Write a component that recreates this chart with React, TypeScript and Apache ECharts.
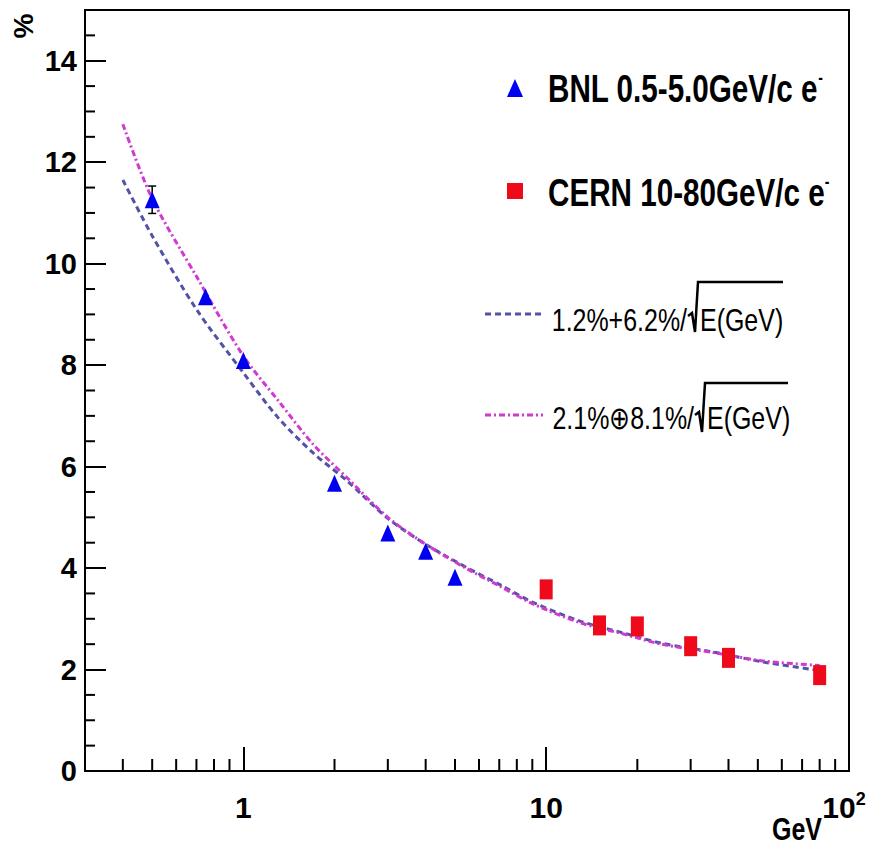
import React, { useEffect, useRef } from "react";
import * as echarts from "echarts";

const FONT = "'Liberation Sans Narrow', 'Liberation Sans', Arial, sans-serif";
const NARROW = 0.78;

// BNL data (triangles)
const BNL_E = [0.5, 0.75, 1, 2, 3, 4, 5];
const BNL_RES = [11.26, 9.35, 8.09, 5.67, 4.69, 4.33, 3.82];
const BNL_ERR = [0.27, 0, 0, 0, 0, 0, 0];

// CERN data (squares)
const CERN_E = [10, 15, 20, 30, 40, 80];
const CERN_RES = [3.58, 2.87, 2.85, 2.46, 2.23, 1.89];

// Fit curves
const FIT_E = [0.4, 0.5, 0.7, 1, 1.3, 1.7, 2.2, 3, 4, 5.5, 7, 9, 13, 18, 24, 36, 52, 80];
const FIT_LIN = [11.65, 10.55, 9.1, 7.85, 6.97, 6.27, 5.72, 4.98, 4.47, 4.0, 3.68, 3.33, 2.95, 2.72, 2.52, 2.34, 2.15, 1.98];
const FIT_QUAD = [12.75, 11.28, 9.75, 8.18, 7.31, 6.44, 5.78, 5.0, 4.47, 3.98, 3.65, 3.3, 2.92, 2.7, 2.5, 2.33, 2.17, 2.08];

// Axis ticks
const X_MIN = 0.3;
const X_MAX = 100;
const X_MINOR = [0.4, 0.5, 0.6, 0.7, 0.8, 0.9, 2, 3, 4, 5, 6, 7, 8, 9, 20, 30, 40, 50, 60, 70, 80, 90];
const Y_MINOR = [0.5, 1, 1.5, 2.5, 3, 3.5, 4.5, 5, 5.5, 6.5, 7, 7.5, 8.5, 9, 9.5, 10.5, 11, 11.5, 12.5, 13, 13.5, 14.5];

const BLUE_LINE = "#5252a6";
const MAGENTA = "#d03ad0";
const TRI = "#0000f0";
const SQ = "#ee0a1a";

export default function App() {
  const ref = useRef<HTMLDivElement>(null);
  useEffect(() => {
    if (!ref.current) return;
    const chart = echarts.init(ref.current, undefined, { renderer: "svg" });
    const bigRich = {
      a: { fontFamily: FONT, fontWeight: "bold", fontSize: 38, lineHeight: 42, fill: "#000" },
      s: { fontFamily: FONT, fontWeight: "bold", fontSize: 18, lineHeight: 18, verticalAlign: "top", fill: "#000" },
    };
    const option: any = {
      animation: false,
      backgroundColor: "#fff",
      grid: {
        left: 85,
        top: 10,
        width: 764,
        height: 761,
        containLabel: false,
        outerBoundsMode: "none",
        show: true,
        borderColor: "#000",
        borderWidth: 2,
        backgroundColor: "transparent",
      },
      xAxis: {
        type: "log",
        logBase: 10,
        min: X_MIN,
        max: X_MAX,
        axisLine: { show: true, lineStyle: { color: "#000", width: 2 } },
        axisTick: { show: true, inside: true, length: 24, lineStyle: { color: "#000", width: 2 } },
        splitLine: { show: false },
        axisLabel: {
          color: "#000",
          fontFamily: FONT,
          fontWeight: "bold",
          fontSize: 30,
          margin: 19,
          showMinLabel: false,
          hideOverlap: false,
          formatter: (v: number) => {
            if (v < 0.5) return "";
            if (v > 50) return "{b|10}{s|2}";
            return "{b|" + String(Math.round(v)) + "}";
          },
          rich: {
            b: { fontFamily: FONT, fontWeight: "bold", fontSize: 30, lineHeight: 34, color: "#000" },
            s: { fontFamily: FONT, fontWeight: "bold", fontSize: 18, lineHeight: 18, verticalAlign: "top", color: "#000", padding: [0, 10, 0, 0] },
          },
        },
      },
      yAxis: {
        type: "value",
        min: 0,
        max: 15,
        interval: 2,
        axisLine: { show: true, lineStyle: { color: "#000", width: 2 } },
        axisTick: { show: true, inside: true, length: 21, lineStyle: { color: "#000", width: 2 } },
        splitLine: { show: false },
        axisLabel: {
          color: "#000",
          fontFamily: FONT,
          fontWeight: "bold",
          fontSize: 29,
          margin: 8,
          showMaxLabel: false,
          padding: [6, 0, 0, 0],
        },
      },
      series: [
        {
          type: "custom",
          name: "xminor",
          silent: true,
          clip: false,
          data: X_MINOR.map((v) => [v, 0]),
          renderItem: (_p: any, api: any) => {
            const p = api.coord([api.value(0), 0]);
            return {
              type: "line",
              shape: { x1: p[0], y1: p[1], x2: p[0], y2: p[1] - 12 },
              style: { stroke: "#000", lineWidth: 2 },
            };
          },
        },
        {
          type: "custom",
          name: "yminor",
          silent: true,
          clip: false,
          data: Y_MINOR.map((v) => [X_MIN, v]),
          renderItem: (_p: any, api: any) => {
            const p = api.coord([X_MIN, api.value(1)]);
            return {
              type: "line",
              shape: { x1: p[0], y1: p[1], x2: p[0] + 10, y2: p[1] },
              style: { stroke: "#000", lineWidth: 2 },
            };
          },
        },
        {
          type: "line",
          name: "lin",
          data: FIT_E.map((e, i) => [e, FIT_LIN[i]]),
          showSymbol: false,
          smooth: 0.3,
          lineStyle: { color: BLUE_LINE, width: 3, type: [6, 4] },
          z: 3,
        },
        {
          type: "line",
          name: "quad",
          data: FIT_E.map((e, i) => [e, FIT_QUAD[i]]),
          showSymbol: false,
          smooth: 0.3,
          lineStyle: { color: MAGENTA, width: 3, type: [6, 3, 2, 3] },
          z: 3,
        },
        {
          type: "custom",
          name: "err",
          silent: true,
          data: BNL_E.map((e, i) => [e, BNL_RES[i], BNL_ERR[i]]),
          renderItem: (_p: any, api: any) => {
            const x = api.value(0);
            const y = api.value(1);
            const er = api.value(2);
            if (!(er > 0)) return null;
            const lo = api.coord([x, y - er]);
            const hi = api.coord([x, y + er]);
            return {
              type: "group",
              children: [
                { type: "line", shape: { x1: lo[0], y1: lo[1], x2: hi[0], y2: hi[1] }, style: { stroke: "#000", lineWidth: 1.5 } },
                { type: "line", shape: { x1: lo[0] - 4, y1: lo[1], x2: lo[0] + 4, y2: lo[1] }, style: { stroke: "#000", lineWidth: 1.5 } },
                { type: "line", shape: { x1: hi[0] - 4, y1: hi[1], x2: hi[0] + 4, y2: hi[1] }, style: { stroke: "#000", lineWidth: 1.5 } },
              ],
            };
          },
          z: 4,
        },
        {
          type: "scatter",
          name: "BNL",
          data: BNL_E.map((e, i) => [e, BNL_RES[i]]),
          symbol: "triangle",
          symbolSize: [15, 17],
          itemStyle: { color: TRI, opacity: 1 },
          z: 5,
        },
        {
          type: "scatter",
          name: "CERN",
          data: CERN_E.map((e, i) => [e, CERN_RES[i]]),
          symbol: "rect",
          symbolSize: [13, 20],
          itemStyle: { color: SQ, opacity: 1 },
          z: 5,
        },
      ],
      graphic: [
        {
          type: "text",
          x: 23,
          y: 26,
          rotation: Math.PI / 2,
          style: { text: "%", fontFamily: FONT, fontWeight: "bold", fontSize: 28, fill: "#000", align: "center", verticalAlign: "middle" },
        },
        {
          type: "text",
          x: 797,
          y: 829,
          scaleX: NARROW,
          style: { text: "GeV", fontFamily: FONT, fontWeight: "bold", fontSize: 32, fill: "#000", align: "center", verticalAlign: "middle" },
        },
        // legend: BNL
        { type: "polygon", shape: { points: [[507, 97], [515, 79], [523, 97]] }, style: { fill: TRI } },
        {
          type: "text",
          x: 548,
          y: 89,
          scaleX: NARROW,
          style: { text: "{a|BNL 0.5-5.0GeV/c e}{s|-}", verticalAlign: "middle", rich: bigRich },
        },
        // legend: CERN
        { type: "rect", shape: { x: 507, y: 183, width: 16, height: 16 }, style: { fill: SQ } },
        {
          type: "text",
          x: 548,
          y: 193,
          scaleX: NARROW,
          style: { text: "{a|CERN 10-80GeV/c e}{s|-}", verticalAlign: "middle", rich: bigRich },
        },
        // legend: linear fit
        { type: "line", shape: { x1: 485, y1: 314, x2: 543, y2: 314 }, style: { stroke: BLUE_LINE, lineWidth: 3, lineDash: [6, 4] } },
        {
          type: "text",
          x: 687,
          y: 320,
          scaleX: NARROW,
          style: { text: "1.2%+6.2%/", fontFamily: FONT, fontSize: 32, fill: "#000", align: "right", verticalAlign: "middle" },
        },
        {
          type: "polyline",
          shape: { points: [[688, 316], [692, 313], [695, 332], [698, 282], [783, 282]] },
          style: { stroke: "#000", lineWidth: 2.5, fill: null },
        },
        {
          type: "text",
          x: 700,
          y: 320,
          scaleX: NARROW,
          style: { text: "E(GeV)", fontFamily: FONT, fontSize: 32, fill: "#000", align: "left", verticalAlign: "middle" },
        },
        // legend: quadrature fit
        { type: "line", shape: { x1: 485, y1: 415, x2: 543, y2: 415 }, style: { stroke: MAGENTA, lineWidth: 3, lineDash: [6, 3, 2, 3] } },
        {
          type: "text",
          x: 694,
          y: 418,
          scaleX: NARROW,
          style: { text: "2.1%⊕8.1%/", fontFamily: FONT, fontSize: 32, fill: "#000", align: "right", verticalAlign: "middle" },
        },
        {
          type: "polyline",
          shape: { points: [[695, 415], [699, 412], [702, 432], [705, 383], [788, 383]] },
          style: { stroke: "#000", lineWidth: 2.5, fill: null },
        },
        {
          type: "text",
          x: 707,
          y: 418,
          scaleX: NARROW,
          style: { text: "E(GeV)", fontFamily: FONT, fontSize: 32, fill: "#000", align: "left", verticalAlign: "middle" },
        },
      ],
    };
    chart.setOption(option);
    return () => chart.dispose();
  }, []);
  return <div ref={ref} style={{ position: "fixed", left: 0, top: 0, width: 869, height: 846 }} />;
}
